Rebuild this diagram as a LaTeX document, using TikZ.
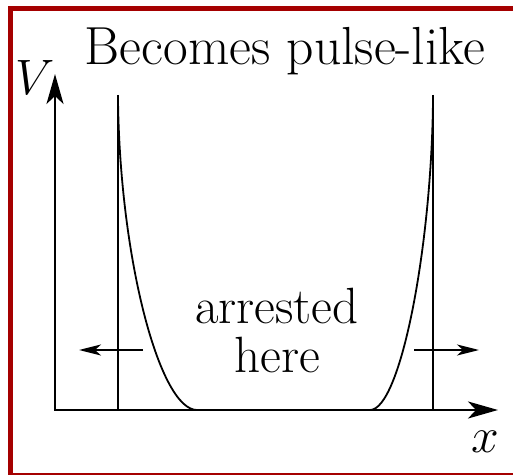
\documentclass[tikz,border=0pt]{standalone}
\usetikzlibrary{arrows.meta,positioning}
\definecolor{framered}{RGB}{165,0,0}

\tikzset{
  axis/.style={line width=1.3pt, -{Stealth[length=15pt,width=8.5pt,inset=4pt]}},
  wall/.style={line width=1.1pt},
  pulse/.style={line width=0.9pt},
  push/.style={line width=1pt, -{Stealth[length=11pt,width=5.5pt,inset=3pt]}},
  txt/.style={font=\fontsize{25.5}{24.5}\selectfont, inner sep=0pt}
}

\begin{document}
\begin{tikzpicture}[x=0.5pt, y=-0.5pt]
  \useasboundingbox (0,0) rectangle (513,475);
  % Frame
  \draw[framered, line width=2.5pt] (10,9) rectangle (540,475.5);

  % Axes
  \coordinate (origin) at (54,410);
  \coordinate (xend) at (498,410);
  \coordinate (yend) at (55,74);
  \draw[axis] (origin) -- (xend);
  \draw[axis] (55,410) -- (yend);
  \node[txt, anchor=base] (vlabel) at (35,95) {$V$};
  \node[txt, anchor=base] (xlabel) at (485,452) {$x$};

  % Walls
  \coordinate (lwalltop) at (118,95);
  \coordinate (lwallbot) at (118,410);
  \coordinate (rwalltop) at (433,95);
  \coordinate (rwallbot) at (433,410);
  \draw[wall] (lwalltop) -- (lwallbot);
  \draw[wall] (rwalltop) -- (rwallbot);

  % Pulse profile
  \draw[pulse] (197,410) .. controls (160,410) and (120,260) .. (118,100);
  \draw[pulse] (370,410) .. controls (400,410) and (431.5,250) .. (433,100);

  % Wall motion
  \coordinate (lpushfrom) at (143,350);
  \coordinate (lpushto) at (79,350);
  \coordinate (rpushfrom) at (414,350);
  \coordinate (rpushto) at (479,350);
  \draw[push] (lpushfrom) -- (lpushto);
  \draw[push] (rpushfrom) -- (rpushto);

  % Labels
  \node[txt, font=\fontsize{26.8}{24.5}\selectfont, anchor=base] (title) at (285,65) {Becomes pulse-like};
  \node[txt, align=center, anchor=base] (arrested) at (277,372) {arrested\\here};
\end{tikzpicture}
\end{document}
